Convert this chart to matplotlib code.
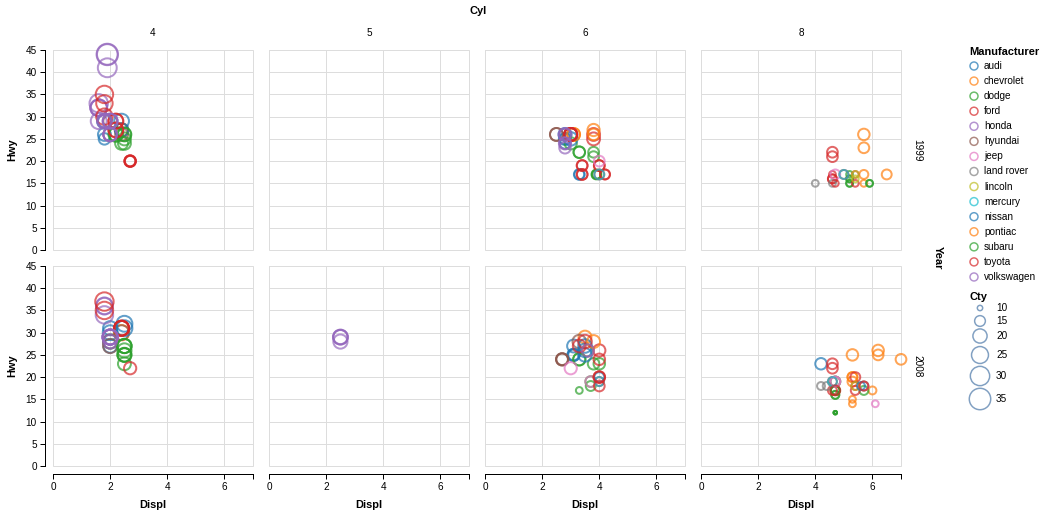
import numpy as np
import matplotlib
matplotlib.use("Agg")
import matplotlib.pyplot as plt
from matplotlib.patches import Rectangle
from matplotlib.colors import to_rgba

plt.rcParams['font.family'] = ['Liberation Sans', 'DejaVu Sans']

# ---------------- data (mpg) ----------------
manufacturers = ["audi", "chevrolet", "dodge", "ford", "honda", "hyundai", "jeep",
                 "land rover", "lincoln", "mercury", "nissan", "pontiac", "subaru",
                 "toyota", "volkswagen"]
counts = [18, 19, 37, 25, 9, 14, 8, 4, 3, 4, 13, 5, 14, 34, 27]

displ = [
    # audi
    1.8, 1.8, 2.0, 2.0, 2.8, 2.8, 3.1, 1.8, 1.8, 2.0, 2.0, 2.8, 2.8, 3.1, 3.1, 2.8, 3.1, 4.2,
    # chevrolet
    5.3, 5.3, 5.3, 5.7, 6.0, 5.7, 5.7, 6.2, 6.2, 7.0, 5.3, 5.3, 5.7, 6.5, 2.4, 2.4, 3.1, 3.5, 3.6,
    # dodge
    2.4, 3.0, 3.3, 3.3, 3.3, 3.3, 3.3, 3.8, 3.8, 3.8, 4.0, 3.7, 3.7, 3.9, 3.9, 4.7, 4.7, 4.7, 5.2, 5.2,
    3.9, 4.7, 4.7, 4.7, 5.2, 5.7, 5.9, 4.7, 4.7, 4.7, 4.7, 4.7, 4.7, 5.2, 5.2, 5.7, 5.9,
    # ford
    4.6, 5.4, 5.4, 4.0, 4.0, 4.0, 4.0, 4.6, 5.0, 4.2, 4.2, 4.6, 4.6, 4.6, 5.4, 5.4,
    3.8, 3.8, 4.0, 4.0, 4.6, 4.6, 4.6, 4.6, 5.4,
    # honda
    1.6, 1.6, 1.6, 1.6, 1.6, 1.8, 1.8, 1.8, 2.0,
    # hyundai
    2.4, 2.4, 2.4, 2.4, 2.5, 2.5, 3.3, 2.0, 2.0, 2.0, 2.0, 2.7, 2.7, 2.7,
    # jeep
    3.0, 3.7, 4.0, 4.7, 4.7, 4.7, 5.7, 6.1,
    # land rover
    4.0, 4.2, 4.4, 4.6,
    # lincoln
    5.4, 5.4, 5.4,
    # mercury
    4.0, 4.0, 4.6, 5.0,
    # nissan
    2.4, 2.4, 2.5, 2.5, 3.5, 3.5, 3.0, 3.0, 3.5, 3.3, 3.3, 4.0, 5.6,
    # pontiac
    3.1, 3.8, 3.8, 3.8, 5.3,
    # subaru
    2.5, 2.5, 2.5, 2.5, 2.5, 2.5, 2.2, 2.2, 2.5, 2.5, 2.5, 2.5, 2.5, 2.5,
    # toyota
    2.7, 2.7, 3.4, 3.4, 4.0, 4.7, 2.2, 2.2, 2.4, 2.4, 3.0, 3.0, 3.5,
    2.2, 2.2, 2.4, 2.4, 3.0, 3.0, 3.3, 1.8, 1.8, 1.8, 1.8, 1.8, 4.7, 5.7,
    2.7, 2.7, 2.7, 3.4, 3.4, 4.0, 4.0,
    # volkswagen
    2.0, 2.0, 2.0, 2.0, 2.8, 1.9, 2.0, 2.0, 2.0, 2.0, 2.5, 2.5, 2.8, 2.8,
    1.9, 1.9, 2.0, 2.0, 2.5, 2.5, 1.8, 1.8, 2.0, 2.0, 2.8, 2.8, 3.6,
]

year = [
    1999, 1999, 2008, 2008, 1999, 1999, 2008, 1999, 1999, 2008, 2008, 1999, 1999, 2008, 2008, 1999, 2008, 2008,
    2008, 2008, 2008, 1999, 2008, 1999, 1999, 2008, 2008, 2008, 2008, 2008, 1999, 1999, 1999, 2008, 1999, 2008, 2008,
    1999, 1999, 1999, 1999, 2008, 2008, 2008, 1999, 1999, 2008, 2008, 2008, 2008, 1999, 1999, 2008, 2008, 2008, 1999, 1999,
    1999, 2008, 2008, 2008, 1999, 2008, 1999, 2008, 2008, 2008, 2008, 2008, 2008, 1999, 1999, 2008, 1999,
    1999, 1999, 2008, 1999, 1999, 1999, 2008, 2008, 1999, 1999, 1999, 1999, 1999, 2008, 1999, 2008,
    1999, 1999, 2008, 2008, 1999, 1999, 2008, 2008, 2008,
    1999, 1999, 1999, 1999, 1999, 2008, 2008, 2008, 2008,
    1999, 1999, 2008, 2008, 1999, 1999, 2008, 1999, 1999, 2008, 2008, 2008, 2008, 2008,
    2008, 2008, 1999, 1999, 2008, 2008, 2008, 2008,
    1999, 2008, 2008, 1999,
    1999, 1999, 2008,
    1999, 2008, 2008, 1999,
    1999, 1999, 2008, 2008, 2008, 2008, 1999, 1999, 2008, 1999, 1999, 2008, 2008,
    1999, 1999, 1999, 2008, 2008,
    1999, 1999, 2008, 2008, 2008, 2008, 1999, 1999, 1999, 1999, 2008, 2008, 2008, 2008,
    1999, 1999, 1999, 1999, 2008, 2008, 1999, 1999, 2008, 2008, 1999, 1999, 2008,
    1999, 1999, 2008, 2008, 1999, 1999, 2008, 1999, 1999, 1999, 2008, 2008, 1999, 2008,
    1999, 1999, 2008, 1999, 1999, 2008, 2008,
    1999, 1999, 2008, 2008, 1999, 1999, 1999, 1999, 2008, 2008, 2008, 2008, 1999, 1999,
    1999, 1999, 1999, 1999, 2008, 2008, 1999, 1999, 2008, 2008, 1999, 1999, 2008,
]

cyl = [
    4, 4, 4, 4, 6, 6, 6, 4, 4, 4, 4, 6, 6, 6, 6, 6, 6, 8,
    8, 8, 8, 8, 8, 8, 8, 8, 8, 8, 8, 8, 8, 8, 4, 4, 6, 6, 6,
    4, 6, 6, 6, 6, 6, 6, 6, 6, 6, 6, 6, 6, 6, 6, 8, 8, 8, 8, 8,
    6, 8, 8, 8, 8, 8, 8, 8, 8, 8, 8, 8, 8, 8, 8, 8, 8,
    8, 8, 8, 6, 6, 6, 6, 8, 8, 6, 6, 8, 8, 8, 8, 8,
    6, 6, 6, 6, 8, 8, 8, 8, 8,
    4, 4, 4, 4, 4, 4, 4, 4, 4,
    4, 4, 4, 4, 6, 6, 6, 4, 4, 4, 4, 6, 6, 6,
    6, 6, 6, 8, 8, 8, 8, 8,
    8, 8, 8, 8,
    8, 8, 8,
    6, 6, 8, 8,
    4, 4, 4, 4, 6, 6, 6, 6, 6, 6, 6, 6, 8,
    6, 6, 6, 6, 8,
    4, 4, 4, 4, 4, 4, 4, 4, 4, 4, 4, 4, 4, 4,
    4, 4, 6, 6, 6, 8, 4, 4, 4, 4, 6, 6, 6,
    4, 4, 4, 4, 6, 6, 6, 4, 4, 4, 4, 4, 8, 8,
    4, 4, 4, 6, 6, 6, 6,
    4, 4, 4, 4, 6, 4, 4, 4, 4, 4, 5, 5, 6, 6,
    4, 4, 4, 4, 5, 5, 4, 4, 4, 4, 6, 6, 6,
]

cty = [
    18, 21, 20, 21, 16, 18, 18, 18, 16, 20, 19, 15, 17, 17, 15, 15, 17, 16,
    14, 11, 14, 13, 12, 16, 15, 16, 15, 15, 14, 11, 11, 14, 19, 22, 18, 18, 17,
    18, 17, 16, 16, 17, 17, 11, 15, 15, 16, 16, 15, 14, 13, 14, 14, 14, 9, 11, 11,
    13, 13, 9, 13, 11, 13, 11, 12, 9, 13, 13, 12, 9, 11, 11, 13, 11,
    11, 11, 12, 14, 15, 15, 13, 13, 13, 14, 14, 13, 13, 13, 11, 13,
    18, 18, 17, 16, 15, 15, 15, 15, 14,
    28, 24, 25, 23, 24, 26, 25, 24, 21,
    18, 18, 21, 21, 18, 18, 19, 19, 19, 20, 20, 17, 16, 17,
    17, 15, 15, 14, 14, 14, 13, 11,
    11, 12, 12, 11,
    11, 11, 12,
    14, 13, 13, 13,
    21, 19, 23, 23, 19, 19, 18, 19, 19, 14, 15, 14, 12,
    18, 16, 17, 18, 16,
    18, 18, 20, 19, 20, 18, 21, 19, 19, 19, 20, 20, 19, 20,
    15, 16, 15, 15, 16, 14, 21, 21, 21, 21, 18, 18, 19,
    21, 21, 21, 22, 18, 18, 18, 24, 24, 26, 28, 26, 11, 13,
    15, 16, 17, 15, 15, 15, 16,
    21, 19, 21, 22, 16, 33, 21, 19, 22, 21, 21, 21, 16, 17,
    35, 29, 21, 19, 20, 20, 21, 18, 19, 22, 16, 18, 17,
]

hwy = [
    29, 29, 31, 30, 26, 26, 27, 26, 25, 28, 27, 25, 25, 25, 25, 24, 25, 23,
    20, 15, 20, 17, 17, 26, 23, 26, 25, 24, 19, 14, 15, 17, 27, 30, 26, 29, 26,
    24, 24, 22, 22, 24, 24, 17, 22, 21, 23, 23, 19, 18, 17, 17, 19, 19, 12, 17, 15,
    17, 17, 12, 17, 16, 18, 15, 16, 12, 17, 17, 16, 12, 15, 16, 17, 15,
    17, 17, 18, 17, 19, 19, 19, 19, 17, 17, 17, 16, 16, 17, 15, 17,
    26, 25, 26, 24, 21, 22, 23, 22, 20,
    33, 32, 32, 29, 32, 34, 36, 36, 29,
    26, 27, 30, 31, 26, 26, 28, 26, 29, 28, 27, 24, 24, 24,
    22, 19, 20, 17, 19, 19, 18, 14,
    15, 18, 18, 15,
    17, 16, 18,
    17, 19, 19, 17,
    29, 27, 31, 32, 27, 26, 26, 25, 25, 17, 17, 20, 18,
    26, 26, 27, 28, 25,
    25, 24, 27, 25, 26, 23, 26, 26, 26, 26, 25, 27, 25, 27,
    20, 20, 19, 17, 20, 17, 29, 27, 31, 31, 26, 26, 28,
    27, 29, 31, 31, 26, 26, 27, 30, 33, 35, 37, 35, 15, 18,
    20, 20, 22, 17, 19, 18, 20,
    29, 26, 29, 29, 24, 44, 29, 26, 29, 29, 29, 29, 23, 24,
    44, 41, 29, 26, 28, 29, 29, 29, 28, 29, 26, 26, 26,
]

cyl_levels = [4, 5, 6, 8]
year_levels = [1999, 2008]
x_ticks = [0, 2, 4, 6]
y_ticks = [0, 5, 10, 15, 20, 25, 30, 35, 40, 45]
legend_cty = [10, 15, 20, 25, 30, 35]

# ---------------- styling ----------------
palette = ["#1f77b4", "#ff7f0e", "#2ca02c", "#d62728", "#9467bd", "#8c564b",
           "#e377c2", "#7f7f7f", "#bcbd22", "#17becf"]
color_of = {m: palette[i % 10] for i, m in enumerate(manufacturers)}
manufacturer = np.repeat(manufacturers, counts)

displ = np.array(displ, float)
year = np.array(year)
cyl = np.array(cyl)
cty = np.array(cty, float)
hwy = np.array(hwy, float)

W, H = 1050, 517
PX = 0.72  # points per pixel at dpi 100
cmin, cmax = cty.min(), cty.max()


def size_pt2(c):
    area = 9 + (np.asarray(c, float) - cmin) / (cmax - cmin) * (361 - 9)
    d_px = 2 * np.sqrt(area / np.pi)
    return (d_px * PX) ** 2


fig = plt.figure(figsize=(W / 100, H / 100), dpi=100)

col_left = [53, 269, 485, 701]
row_top = [50, 266]
pw, ph = 200, 200

grid_c = "#dddddd"
for ri, yr in enumerate(year_levels):
    for ci, cy in enumerate(cyl_levels):
        l = col_left[ci] / W
        b = (H - row_top[ri] - ph) / H
        ax = fig.add_axes([l, b, pw / W, ph / H])
        ax.set_xlim(0, 7)
        ax.set_ylim(0, 45)
        ax.set_facecolor("none")
        for xv in x_ticks:
            ax.axvline(xv, color=grid_c, lw=PX, zorder=0)
        for yv in y_ticks:
            ax.axhline(yv, color=grid_c, lw=PX, zorder=0)
        ax.add_patch(Rectangle((0, 0), 1, 1, transform=ax.transAxes, fill=False,
                               ec=grid_c, lw=PX, clip_on=False, zorder=1))
        for s in ["top", "right"]:
            ax.spines[s].set_visible(False)
        m = (year == yr) & (cyl == cy)
        if m.any():
            cols = [to_rgba(color_of[k], 0.7) for k in manufacturer[m]]
            ax.scatter(displ[m], hwy[m], s=size_pt2(cty[m]), facecolors="none",
                       edgecolors=cols, linewidths=2 * PX, clip_on=False, zorder=3)
        # y axis
        if ci == 0:
            ax.spines["left"].set_position(("outward", 8 * PX))
            ax.spines["left"].set_linewidth(PX)
            ax.spines["left"].set_color("black")
            ax.set_yticks(y_ticks)
            ax.tick_params(axis="y", length=5 * PX, width=PX, pad=3 * PX,
                           labelsize=10 * PX, colors="black")
        else:
            ax.spines["left"].set_visible(False)
            ax.set_yticks([])
        # x axis
        if ri == 1:
            ax.spines["bottom"].set_position(("outward", 8 * PX))
            ax.spines["bottom"].set_linewidth(PX)
            ax.spines["bottom"].set_color("black")
            ax.set_xticks(x_ticks)
            ax.set_xticks([7], minor=True)
            ax.tick_params(axis="x", which="both", length=5 * PX, width=PX, pad=3 * PX,
                           labelsize=10 * PX, colors="black")
        else:
            ax.spines["bottom"].set_visible(False)
            ax.set_xticks([])

# overlay for headers, titles and legends
ov = fig.add_axes([0, 0, 1, 1])
ov.set_xlim(0, W)
ov.set_ylim(H, 0)
ov.axis("off")
ov.patch.set_alpha(0)

ov.text(478, 11, "Cyl", ha="center", va="center", fontsize=11 * PX, fontweight="bold")
for ci, cy in enumerate(cyl_levels):
    ov.text(col_left[ci] + pw / 2, 33, str(cy), ha="center", va="center", fontsize=10 * PX)
    ov.text(col_left[ci] + pw / 2, 505, "Displ", ha="center", va="center",
            fontsize=11 * PX, fontweight="bold")
for ri, yr in enumerate(year_levels):
    ov.text(12, row_top[ri] + ph / 2, "Hwy", ha="center", va="center", rotation=90,
            fontsize=11 * PX, fontweight="bold")
    ov.text(917, row_top[ri] + ph / 2, str(yr), ha="center", va="center", rotation=-90,
            fontsize=10 * PX)
ov.text(938, 258, "Year", ha="center", va="center", rotation=-90,
        fontsize=11 * PX, fontweight="bold")

# manufacturer legend
ov.text(969, 52, "Manufacturer", ha="left", va="center", fontsize=11 * PX, fontweight="bold")
for i, mname in enumerate(manufacturers):
    yy = 66 + i * 15.07
    ov.scatter([974], [yy], s=(8 * PX) ** 2, facecolors="none",
               edgecolors=[to_rgba(color_of[mname], 0.7)], linewidths=1.5 * PX)
    ov.text(984, yy, mname, ha="left", va="center", fontsize=10 * PX)

# size legend
ov.text(969, 297, "Cty", ha="left", va="center", fontsize=11 * PX, fontweight="bold")
leg_y = [308, 321, 336, 355, 376, 399]
for c, yy in zip(legend_cty, leg_y):
    ov.scatter([980], [yy], s=size_pt2(c), facecolors="none",
               edgecolors=[to_rgba("#4c78a8", 0.7)], linewidths=1.5 * PX)
    ov.text(996, yy, str(c), ha="left", va="center", fontsize=10 * PX)

fig.savefig("out.png", dpi=100)
